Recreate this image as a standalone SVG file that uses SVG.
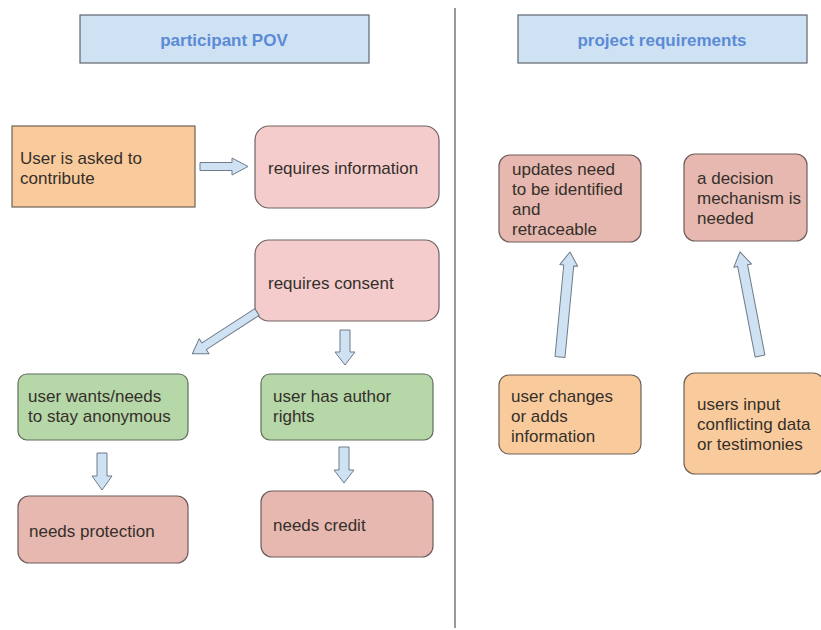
<svg xmlns="http://www.w3.org/2000/svg" width="821" height="630" viewBox="0 0 821 630">
  <style>
    .hdr { fill: #cfe2f3; stroke: #5f6670; stroke-width: 1.2; }
    .hdr-t { font-family: "Liberation Sans", Arial, sans-serif; font-size: 17px; font-weight: bold; fill: #5b8ad6; text-anchor: middle; }
    .orange { fill: #f9cb9c; stroke: #6e6256; stroke-width: 1.2; }
    .pink { fill: #f4cccc; stroke: #6e6262; stroke-width: 1.2; }
    .salmon { fill: #e6b8af; stroke: #6e5f5c; stroke-width: 1.2; }
    .green { fill: #b6d7a8; stroke: #5f6e5a; stroke-width: 1.2; }
    .t { font-family: "Liberation Sans", Arial, sans-serif; font-size: 17px; fill: #352f2b; }
    .arrow { fill: #cfe2f3; stroke: #6f7b88; stroke-width: 1; stroke-linejoin: round; }
    .divider { stroke: #777; stroke-width: 1.5; }
  </style>

  <rect width="821" height="630" fill="#ffffff"/>

  <line class="divider" x1="455" y1="8" x2="455" y2="628"/>

  <!-- section headings -->
  <g id="heading-participant">
    <rect class="hdr" x="80" y="15" width="289" height="48"/>
    <text class="hdr-t" x="224" y="46">participant POV</text>
  </g>
  <g id="heading-project">
    <rect class="hdr" x="518" y="15" width="289" height="48"/>
    <text class="hdr-t" x="662" y="46">project requirements</text>
  </g>

  <!-- participant side -->
  <g id="asked-to-contribute">
    <rect class="orange" x="12" y="126" width="183" height="81"/>
    <text class="t" x="20" y="164">User is asked to</text>
    <text class="t" x="20" y="184">contribute</text>
  </g>
  <g id="requires-information">
    <rect class="pink" x="255" y="126" width="184" height="82" rx="14"/>
    <text class="t" x="268" y="174">requires information</text>
  </g>
  <g id="requires-consent">
    <rect class="pink" x="255" y="240" width="184" height="81" rx="14"/>
    <text class="t" x="268" y="289">requires consent</text>
  </g>
  <g id="stay-anonymous">
    <rect class="green" x="18" y="374" width="170" height="66" rx="9"/>
    <text class="t" x="28" y="402">user wants/needs</text>
    <text class="t" x="28" y="422">to stay anonymous</text>
  </g>
  <g id="author-rights">
    <rect class="green" x="261" y="374" width="172" height="66" rx="9"/>
    <text class="t" x="273" y="402">user has author</text>
    <text class="t" x="273" y="422">rights</text>
  </g>
  <g id="needs-protection">
    <rect class="salmon" x="18" y="496" width="170" height="67" rx="11"/>
    <text class="t" x="29" y="537">needs protection</text>
  </g>
  <g id="needs-credit">
    <rect class="salmon" x="261" y="491" width="172" height="66" rx="11"/>
    <text class="t" x="273" y="531">needs credit</text>
  </g>

  <!-- project side -->
  <g id="updates-identified">
    <rect class="salmon" x="499" y="155" width="142" height="87" rx="11"/>
    <text class="t" x="512" y="175">updates need</text>
    <text class="t" x="512" y="195">to be identified</text>
    <text class="t" x="512" y="215">and</text>
    <text class="t" x="512" y="235">retraceable</text>
  </g>
  <g id="decision-mechanism">
    <rect class="salmon" x="684" y="154" width="123" height="87" rx="11"/>
    <text class="t" x="697" y="184">a decision</text>
    <text class="t" x="697" y="204">mechanism is</text>
    <text class="t" x="697" y="224">needed</text>
  </g>
  <g id="user-changes">
    <rect class="orange" x="499" y="375" width="142" height="79" rx="10"/>
    <text class="t" x="511" y="402">user changes</text>
    <text class="t" x="511" y="422">or adds</text>
    <text class="t" x="511" y="442">information</text>
  </g>
  <g id="conflicting-input">
    <rect class="orange" x="684" y="373" width="140" height="101" rx="11"/>
    <text class="t" x="697" y="410">users input</text>
    <text class="t" x="697" y="430">conflicting data</text>
    <text class="t" x="697" y="450">or testimonies</text>
  </g>

  <!-- block arrows -->
  <g id="connectors">
    <polygon class="arrow" points="200,162.5 232,162.5 232,158 248,166.5 232,175 232,170.5 200,170.5"/>
    <g transform="translate(257,312) rotate(147.1)">
      <polygon class="arrow" points="0,-4 63,-4 63,-9 77,0 63,9 63,4 0,4"/>
    </g>
    <polygon class="arrow" points="340,330 350,330 350,352 355,352 345,365 335,352 340,352"/>
    <polygon class="arrow" points="97,453 107,453 107,476 112,476 102,490 92,476 97,476"/>
    <polygon class="arrow" points="339,447 349,447 349,470 354,470 344,483 334,470 339,470"/>
    <g transform="translate(560,357) rotate(-84.56)">
      <polygon class="arrow" points="0,-5 92,-5 92,-9 105.5,0 92,9 92,5 0,5"/>
    </g>
    <g transform="translate(760,356) rotate(-100.9)">
      <polygon class="arrow" points="0,-5 92,-5 92,-9 106,0 92,9 92,5 0,5"/>
    </g>
  </g>
</svg>
